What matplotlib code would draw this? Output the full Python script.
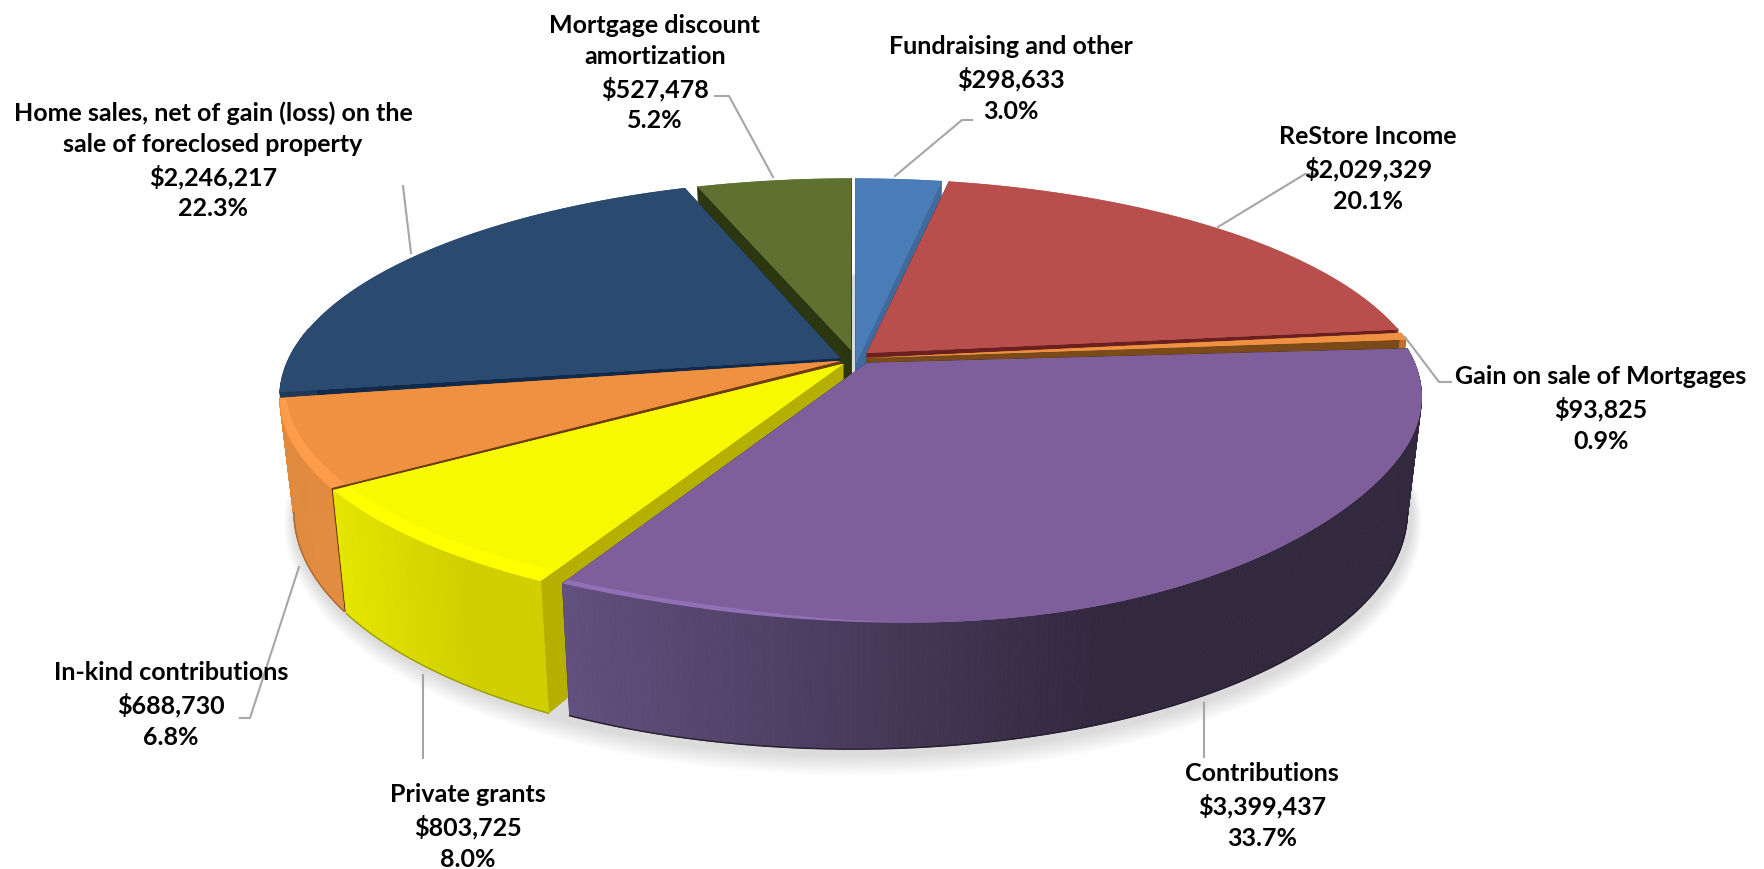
# 3D style pie of revenue sources
import numpy as np
import matplotlib
matplotlib.use('Agg')
import matplotlib.pyplot as plt
from matplotlib.patches import Polygon

plt.rcParams['font.family'] = ['Lato', 'DejaVu Sans']

# Data, clockwise from 12 o'clock
names = ['Fundraising and other', 'ReStore Income', 'Gain on sale of Mortgages',
         'Contributions', 'Private grants', 'In-kind contributions',
         'Home sales, net of gain (loss) on the\nsale of foreclosed property',
         'Mortgage discount\namortization']
amounts = [298633, 2029329, 93825, 3399437, 803725, 688730, 2246217, 527478]

# Styles
face_col = ['#4a7db8', '#b94f4d', '#f09142', '#7f5f9b', '#f8f800', '#f09142', '#2a4a70', '#5f7131']
bevel_col = ['#5088c4', '#c05452', '#ff9a48', '#9270b8', '#ffff00', '#ff9c4c', '#2f5078', '#667a35']
wall_col = ['#3f6a9e', '#6b1f20', '#7a4a18', '#33293f', '#b5b000', '#6e3d14', '#0f2a4c', '#2c3610']
side_left = ['#3f6a9e', '#8e3c3a', '#c07030', '#62507f', '#e6e600', '#e08a40', '#213a58', '#4a5826']
side_right = ['#3f6a9e', '#8e3c3a', '#c07030', '#33293f', '#d0d000', '#e38c40', '#213a58', '#4a5826']
inset_a = [0.3, 0.9, 0.0, 1.0, 0.0, 0.0, 0.0, 0.0]
inset_b = [0.0, 1.0, 1.5, 1.9, 0.5, 1.5, 1.6, 0.2]
reach = [1.0, 1.0, 1.0, 0.992, 1.0, 1.0, 1.0, 1.0]
bevel = [0.0, 0.0, 0.0, 0.014, 0.04, 0.04, 0.0, 0.0]
sag = [0, 0, 0, 13, 0, 0, 0, 0]
tip_dx = [3, 14, 14, 14, -10, -13, -13, -2]
tip_dy = [5, -5, 0, 5, 6, 3, 0, -8]
order = [0, 7, 1, 6, 2, 5, 4, 3]

# label centres and leader lines, in image pixels
label_x = [1011, 1368, 1601, 1262, 468, 171, 213, 655]
label_y = [79, 169, 409, 806, 827, 705, 161, 73]
leader_x = [[895, 962, 972], [1218, 1305, 1318], [1405, 1439, 1451], [1204, 1204],
            [423, 423], [299, 250, 240], [411, 403], [773, 729, 715]]
leader_y = [[176, 120, 120], [227, 174, 174], [337, 382, 382], [703, 757],
            [675, 758], [567, 718, 718], [253, 186], [177, 96, 96]]

cx, cy = 853.0, 358.0
rx, ry = 564.0, 212.0
persp = 0.18
depth = 111.0
shrink = 0.975


def project(theta, r=1.0, low=False):
    u = r * np.sin(np.radians(theta))
    v = r * np.cos(np.radians(theta))
    s = 1.0 / (1.0 + persp * v)
    x = rx * u * s
    y = -ry * v * s
    if low:
        x = x * shrink
        y = y + depth * s
    return cx + x, cy + y


def top_rim(i, theta, r):
    # upper rim of a slice, the big front slice sags a little
    x, y = project(theta, r)
    f = np.clip((np.asarray(theta, dtype=float) - 115.0) / 90.0, 0.0, 1.0)
    return x, y + sag[i] * np.sin(np.pi * f) ** 2


def mix(c1, c2, t):
    a = np.array(matplotlib.colors.to_rgb(c1))
    b = np.array(matplotlib.colors.to_rgb(c2))
    return tuple(a + (b - a) * t)


fig = plt.figure(figsize=(17.65, 8.69), dpi=100)
ax = fig.add_axes([0, 0, 1, 1])
ax.set_xlim(0, 1765)
ax.set_ylim(869, 0)
ax.axis('off')

# soft shadow under the pie
th = np.linspace(0, 360, 361)
sx, sy = project(th, low=True)
for f in np.linspace(1.0, 0.0, 18):
    px = cx + (sx - cx) * (1.0 + 0.018 * f)
    py = cy + 4 + (sy - cy) * (1.0 + 0.05 * f)
    ax.add_patch(Polygon(np.c_[px, py], closed=True, fc='k', ec='none', alpha=0.008, zorder=1))

shares = np.array(amounts) / float(sum(amounts))
edges = np.r_[0, np.cumsum(shares)] * 360.0

z = 2
for i in order:
    a = edges[i] + inset_a[i]
    b = edges[i + 1] - inset_b[i]
    tx, ty = project(0.0, 0.0)
    tx += tip_dx[i]
    ty += tip_dy[i]
    lx, ly = project(0.0, 0.0, low=True)
    lx += tip_dx[i]
    ly += tip_dy[i]

    # radial walls
    for ang in (a, b):
        rx1, ry1 = top_rim(i, ang, reach[i])
        rx2, ry2 = project(ang, reach[i], low=True)
        ax.add_patch(Polygon([(tx, ty), (rx1, ry1), (rx2, ry2), (lx, ly)], closed=True,
                             fc=wall_col[i], ec=wall_col[i], lw=0.5, zorder=z))
    z += 1

    # outer wall, shaded by screen position, front part only
    ang = np.linspace(a, b, max(int(b - a) * 2, 2) + 1)
    ang = ang[np.cos(np.radians(ang)) < 0.15]
    if len(ang) > 1:
        x1, y1 = top_rim(i, ang, reach[i])
        x2, y2 = project(ang, reach[i], low=True)
        lim0, lim1 = x1.min(), x1.max()
        for j in range(len(ang) - 1):
            t = min(1.0, 1.6 * (x1[j] - lim0) / max(lim1 - lim0, 1.0))
            col = mix(side_left[i], side_right[i], t)
            ax.add_patch(Polygon([(x1[j], y1[j]), (x1[j + 1], y1[j + 1]),
                                  (x2[j + 1], y2[j + 1]), (x2[j], y2[j])], closed=True,
                                 fc=col, ec=col, lw=0.6, zorder=z))
        vis = ang > 100
        ax.plot(x2[vis], y2[vis], color=mix(side_right[i], '#000000', 0.25), lw=1, zorder=z)
    z += 1

    # top face with a lighter bevel along the front of the rim
    ang = np.linspace(a, b, 120)
    fx, fy = top_rim(i, ang, reach[i])
    ax.add_patch(Polygon(np.r_[[(tx, ty)], np.c_[fx, fy]], closed=True,
                         fc=bevel_col[i], ec='none', zorder=z))
    z += 1
    cv = np.cos(np.radians(ang))
    su = np.sin(np.radians(ang))
    weight = np.clip(-cv + 0.1, 0.0, 1.0) * np.clip((0.1 - su) / 0.3, 0.0, 1.0)
    inner = reach[i] * (1.0 - bevel[i] * weight)
    fx, fy = top_rim(i, ang, inner)
    ax.add_patch(Polygon(np.r_[[(tx, ty)], np.c_[fx, fy]], closed=True,
                         fc=face_col[i], ec='none', zorder=z))
    z += 1

# leader lines and labels
for i in range(len(names)):
    ax.plot(leader_x[i], leader_y[i], color='#a6a6a6', lw=1.5, zorder=z)
    txt = '%s\n$%s\n%.1f%%' % (names[i], format(amounts[i], ','), shares[i] * 100)
    ax.text(label_x[i], label_y[i], txt, ha='center', va='center', fontsize=18,
            fontweight='bold', color='black', linespacing=1.42, zorder=z + 1)

fig.savefig('out.png', dpi=100)
